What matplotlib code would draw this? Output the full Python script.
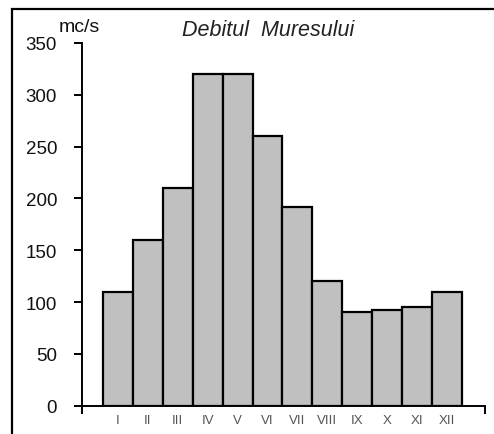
import matplotlib
matplotlib.use("Agg")
import matplotlib.pyplot as plt
from matplotlib.patches import Rectangle

months = ["I", "II", "III", "IV", "V", "VI", "VII", "VIII", "IX", "X", "XI", "XII"]
flow = [110, 160, 210, 320, 320, 260, 192, 120, 90, 92, 95, 110]
yticks = [0, 50, 100, 150, 200, 250, 300, 350]

plt.rcParams['font.family'] = ['Liberation Sans', 'DejaVu Sans']

fig = plt.figure(figsize=(4.94, 4.35), dpi=100)
ax = fig.add_axes([82/494, 1 - 406.7/435, (485-82)/494, (406.7-44)/435])

x = list(range(len(months)))
ax.bar(x, flow, width=1.0, color="#c0c0c0", edgecolor="black", linewidth=1.6, zorder=3)

xmin, xmax = -1.2, 12.27
ax.set_xlim(xmin, xmax)
ax.set_ylim(0, 350)

ax.spines['top'].set_visible(False)
ax.spines['right'].set_visible(False)
for s in ('left', 'bottom'):
    ax.spines[s].set_linewidth(1.4)

ax.set_yticks(yticks)
ax.set_yticklabels([str(v) for v in yticks], fontsize=13.5, color="#111111")
ax.tick_params(axis='y', length=6, width=1.4, pad=12)

ax.set_xticks([xmin, xmax])
ax.set_xticklabels(["", ""])
ax.tick_params(axis='x', which='major', length=6, width=1.4, direction='out')
ax.set_xticks(x, minor=True)
ax.set_xticklabels(months, minor=True, fontsize=9.5, color="#555555")
ax.tick_params(axis='x', which='minor', length=0, pad=6)

fig.text(268/494, 1 - 36/435, "Debitul  Muresului", fontsize=15.5, style='italic',
         ha='center', va='baseline', color="#222222")
fig.text(59/494, 1 - 32/435, "mc/s", fontsize=14, ha='left', va='baseline', color="#111111")

frame = Rectangle((12/494, -0.1), 1.2, 1 - 9.5/435 + 0.1, transform=fig.transFigure,
                  fill=False, edgecolor="black", linewidth=1.6, clip_on=False)
fig.patches.append(frame)

fig.savefig("out.png", dpi=100)
